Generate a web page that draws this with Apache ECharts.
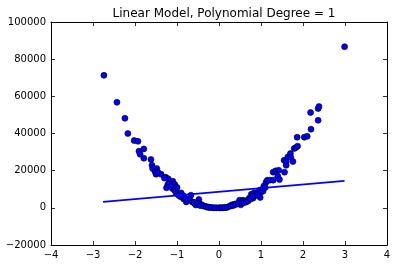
<!DOCTYPE html>
<html><head><meta charset="utf-8">
<script src="https://cdn.jsdelivr.net/npm/echarts@6/dist/echarts.min.js"></script>
<style>html,body{margin:0;padding:0;background:#fff}#c{width:396px;height:266px}</style>
</head><body><div id="c"></div>
<script>
const titleText = "Linear Model, Polynomial Degree = 1";
const xs = [-2.74,-2.43,-2.24,-2.17,-2.02,-1.93,-1.905,-1.88,-1.79,-1.79,-1.62,-1.595,-1.58,-1.48,-1.52,-1.47,-1.50,-1.38,-1.27,-1.21,-1.22,-1.25,-1.19,-1.10,-1.10,-1.05,-1.11,-1.06,-1.02,-1.02,-0.94,-0.91,-0.84,-0.78,-0.75,-0.67,-0.70,-0.64,-0.58,-0.48,-0.46,-0.41,-0.34,-0.28,-0.22,-0.14,-0.06,0.05,0.11,0.18,0.25,0.31,0.37,0.44,0.49,0.52,0.57,0.62,0.69,0.72,0.77,0.81,0.84,0.90,0.94,0.98,0.97,1.03,1.07,1.12,1.15,1.21,1.29,1.29,1.35,1.40,1.42,1.44,1.56,1.55,1.60,1.60,1.64,1.70,1.71,1.76,1.79,1.83,1.87,1.86,2.03,2.10,2.19,2.18,2.36,2.36,2.38,2.99,
-0.9,-0.85,-0.8,-0.6,-0.55,-0.5,-0.45,-0.38,-0.3,-0.25,-0.18,-0.1,0,0.02,0.08,0.14,0.2,0.28,0.34,0.4,0.46,0.55,0.6,0.65,0.7,0.75,0.8,0.86,0.92,1.0,1.05,1.1,-1.0,-1.15,-1.3,-1.45,-0.95];
const ys = [71300,56800,48200,40000,36200,35800,30500,28900,31700,26700,26000,22900,21100,21100,19400,19000,18100,18100,16500,15600,12500,10750,13000,14300,12500,12500,10400,9500,9100,7700,7200,5900,4800,3200,4100,6800,4800,3200,2300,4500,2300,1600,900,360,180,0,0,0,50,180,900,1600,2000,2300,4100,1600,4100,3600,4300,5200,7300,5200,8100,8100,7500,5600,9500,10000,11800,13800,14900,14900,14900,19200,19900,17000,20200,15200,19200,25600,24700,22900,27400,29200,27100,24900,31900,32400,33200,38000,38000,38500,42300,51300,47100,53400,54500,86700,
8000,6500,5000,3000,1500,2000,1200,1000,600,400,200,50,0,0,50,150,400,1000,1200,1800,2600,3000,2800,3200,3800,4800,6000,6500,7000,8500,9000,11000,11000,11500,16000,19000,6500];
const lineX = [-2.76, 2.99];
const lineY = [3200, 14500];
const xTicks = {min:-4, max:4, interval:1};
const yTicks = {min:-20000, max:100000, interval:20000};

const font = "DejaVu Sans";
const fmt = v => String(v).replace('-', '\u2212');
const chart = echarts.init(document.getElementById('c'), null, {renderer:'canvas'});
const axBase = (o, show) => ({
  type:'value', min:o.min, max:o.max, interval:o.interval,
  splitLine:{show:false},
  axisLine:{show:true, onZero:false, lineStyle:{color:'#000', width:1}},
  axisTick:{show:true, inside:true, length:4, lineStyle:{color:'#000', width:0.8}},
  axisLabel:{show:show, color:'#000', fontFamily:font, fontSize:10, formatter:fmt, margin:5}
});
chart.setOption({
  animation:false,
  backgroundColor:'#fff',
  title:{text:titleText, left:219, textAlign:'center', top:3,
    textStyle:{fontFamily:font, fontSize:12, fontWeight:'normal', color:'#000'}},
  grid:{left:51, right:9, top:22, bottom:21},
  xAxis:[Object.assign(axBase(xTicks,true),{position:'bottom'}), Object.assign(axBase(xTicks,false),{position:'top'})],
  yAxis:[Object.assign(axBase(yTicks,true),{position:'left'}), Object.assign(axBase(yTicks,false),{position:'right'})],
  series:[
    {type:'scatter', data: xs.map((x,i)=>[x, ys[i]]), symbolSize:6,
     itemStyle:{color:'#0000ff', borderColor:'#000', borderWidth:0.6, opacity:1}},
    {type:'line', data: lineX.map((x,i)=>[x, lineY[i]]), symbol:'none',
     lineStyle:{color:'#0000ff', width:1.6}}
  ]
});
</script></body></html>
